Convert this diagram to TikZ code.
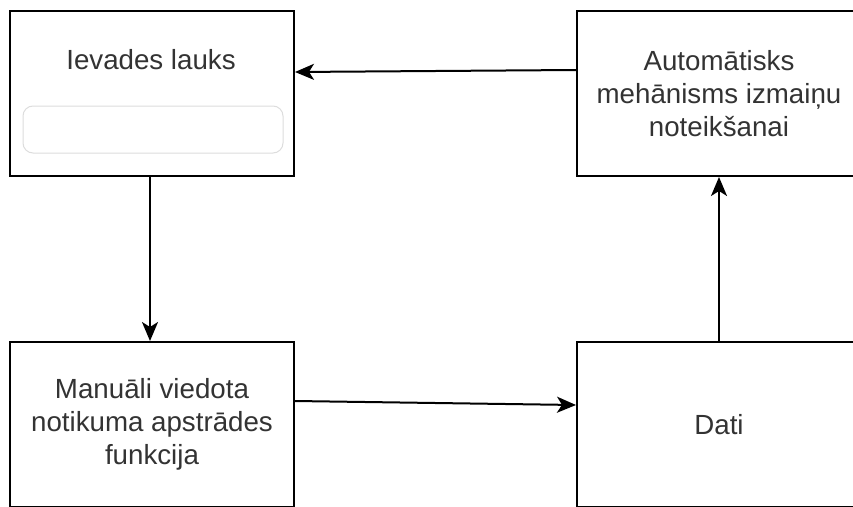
\documentclass[tikz,border=0pt]{standalone}
\usepackage{fontspec}
\setmainfont{Liberation Sans}
\usetikzlibrary{arrows.meta}
\definecolor{txt}{HTML}{333333}
\definecolor{fieldline}{HTML}{DDDDDD}
\tikzset{
  block/.style={draw=black, line width=2pt, fill=white, minimum width=284pt,
    minimum height=165pt, inner sep=0pt, align=center, text=txt,
    font=\fontsize{27.7}{33.2}\selectfont},
  lbl/.style={text=txt, font=\fontsize{27.7}{33.2}\selectfont, inner sep=0pt},
  field/.style={draw=fieldline, line width=1pt, rounded corners=10pt,
    minimum width=260pt, minimum height=47pt},
  flow/.style={line width=2pt, -{Stealth[length=19pt,width=16pt,inset=5pt]}}
}
\begin{document}
\begin{tikzpicture}[x=1pt, y=-1pt]
  \useasboundingbox (0,0) rectangle (853,506);
  \clip (0,0) rectangle (853,506);
  \fill[white] (0,0) rectangle (853,506);

  % four blocks
  \node[block] (input) at (152,93.5) {};
  \node[block] (auto) at (719,93.5) {Automātisks\\mehānisms izmaiņu\\noteikšanai};
  \node[block] (handler) at (152,424.5) {Manuāli viedota\\notikuma apstrādes\\funkcija};
  \node[block] (data) at (719,424.5) {Dati};

  % contents of the input block
  \node[lbl] (title) at (151,60) {Ievades lauks};
  \node[field] (box) at (153,129.5) {};

  % connectors
  \draw[flow] ([xshift=-2pt]input.south) -- ([xshift=-2pt]handler.north);
  \draw[flow] ([yshift=23.5pt]handler.east) -- ([yshift=19.5pt]data.west);
  \draw[flow] (data.north) -- (auto.south);
  \draw[flow] ([yshift=23.5pt]auto.west) -- ([yshift=21.5pt]input.east);
\end{tikzpicture}
\end{document}
